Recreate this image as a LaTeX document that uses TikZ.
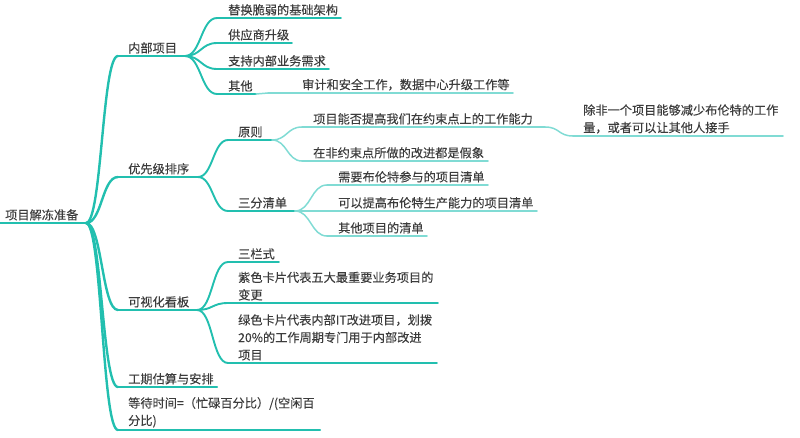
\documentclass[tikz,border=0pt]{standalone}
\usepackage{fontspec}
\newfontfamily\cjk[FakeBold=0.1]{Noto Sans CJK SC}
\definecolor{tealA}{HTML}{22BFAF}
\definecolor{tealB}{HTML}{80DBD4}
\definecolor{txtc}{HTML}{3C3C3C}
\newcommand\mmtopic[7]{%
  \coordinate (#1-s) at (#3,#6);
  \coordinate (#1-e) at (#5,#6);
  \draw[#2] (#1-s) -- (#1-e);
  \node[txtbox] (#1) at (#4,#6-2.3) {#7};
}
\newcommand\mmlink[4]{\draw[#4] (#1-e) .. controls +(#3,0) and +(-#3,0) .. (#2-s);}
\begin{document}
\begin{tikzpicture}[x=1pt,y=-1pt,
  txtbox/.style={anchor=south west, inner sep=0pt, font=\cjk\fontsize{12.2}{17.5}\selectfont, text=txtc, align=left},
  lone/.style={draw=tealA, line width=2.4pt, line cap=round},
  ltwo/.style={draw=tealA, line width=1.9pt, line cap=round},
  lthree/.style={draw=tealB, line width=1.5pt, line cap=round}]
\useasboundingbox (0,0) rectangle (800,437);
% root
\mmtopic{R}{lone}{0}{5}{86}{223}{项目解冻准备}
% level 1
\mmtopic{A}{lone}{118}{128}{185}{56}{内部项目}
\mmtopic{B}{lone}{118}{128}{198}{177}{优先级排序}
\mmtopic{C}{lone}{118}{128}{197}{310}{可视化看板}
\mmtopic{D}{lone}{118}{128}{217}{387}{工期估算与安排}
\mmtopic{E}{lone}{118}{128}{320}{430}{等待时间=（忙碌百分比）/(空闲百\\分比)}
% level 2 under A
\mmtopic{A1}{ltwo}{217}{228}{341}{18}{替换脆弱的基础架构}
\mmtopic{A2}{ltwo}{217}{228}{292}{43}{供应商升级}
\mmtopic{A3}{ltwo}{217}{228}{329}{69}{支持内部业务需求}
\mmtopic{A4}{ltwo}{217}{228}{256}{94}{其他}
\mmtopic{A41}{lthree}{268}{302}{513}{93}{审计和安全工作，数据中心升级工作等}
% level 2 under B
\mmtopic{B1}{ltwo}{228}{238}{272}{140}{原则}
\mmtopic{B11}{lthree}{302}{313}{545}{127}{项目能否提高我们在约束点上的工作能力}
\mmtopic{B111}{lthree}{573}{583}{783}{136}{除非一个项目能够减少布伦特的工作\\量，或者可以让其他人接手}
\mmtopic{B12}{lthree}{302}{313}{488}{161}{在非约束点所做的改进都是假象}
\mmtopic{B2}{ltwo}{228}{238}{295}{211}{三分清单}
\mmtopic{B21}{lthree}{327}{338}{488}{185}{需要布伦特参与的项目清单}
\mmtopic{B22}{lthree}{327}{338}{537}{211}{可以提高布伦特生产能力的项目清单}
\mmtopic{B23}{lthree}{327}{338}{427}{236}{其他项目的清单}
% level 2 under C
\mmtopic{C1}{ltwo}{228}{238}{279}{262}{三栏式}
\mmtopic{C2}{ltwo}{228}{238}{438}{303}{紫色卡片代表五大最重要业务项目的\\变更}
\mmtopic{C3}{ltwo}{228}{238}{437}{363}{绿色卡片代表内部IT改进项目，划拨\\20\%的工作周期专门用于内部改进\\项目}
% connectors
\mmlink{R}{A}{16}{lone}
\mmlink{R}{B}{16}{lone}
\mmlink{R}{C}{16}{lone}
\mmlink{R}{D}{16}{lone}
\mmlink{R}{E}{16}{lone}
\mmlink{A}{A1}{16}{ltwo}
\mmlink{A}{A2}{16}{ltwo}
\mmlink{A}{A3}{16}{ltwo}
\mmlink{A}{A4}{16}{ltwo}
\mmlink{A4}{A41}{6}{lthree}
\mmlink{B}{B1}{15}{ltwo}
\mmlink{B}{B2}{15}{ltwo}
\mmlink{B1}{B11}{15}{lthree}
\mmlink{B1}{B12}{15}{lthree}
\mmlink{B11}{B111}{15}{lthree}
\mmlink{B2}{B21}{16}{lthree}
\mmlink{B2}{B22}{16}{lthree}
\mmlink{B2}{B23}{16}{lthree}
\mmlink{C}{C1}{16}{ltwo}
\mmlink{C}{C2}{16}{ltwo}
\mmlink{C}{C3}{16}{ltwo}
\end{tikzpicture}
\end{document}
